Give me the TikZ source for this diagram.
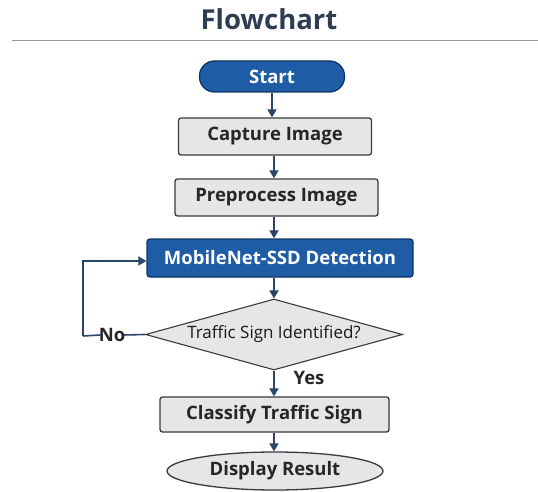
\documentclass[tikz,border=0pt]{standalone}
\usepackage{fontspec}
\setmainfont{Open Sans}
\usetikzlibrary{shapes.geometric,arrows.meta}
\definecolor{navy}{HTML}{2B4566}
\definecolor{bluefill}{HTML}{1F5CA6}
\definecolor{blueedge}{HTML}{0F3566}
\definecolor{grayfill}{HTML}{E6E6E8}
\definecolor{grayedge}{HTML}{3A3A3A}
\definecolor{titlecol}{HTML}{2E3D52}
\tikzset{
  every node/.style={font=\bfseries\fontsize{18.5}{22}\selectfont, inner sep=0pt},
  procbox/.style={draw=grayedge, line width=1.3pt, fill=grayfill, rounded corners=2.5pt, text=black!85},
  bluebox/.style={draw=blueedge, line width=1.3pt, fill=bluefill, rounded corners=3pt, text=white},
  decbox/.style={diamond, aspect=3.6, draw=grayedge, line width=1.1pt, fill=grayfill, text=black!90, font=\fontsize{17}{20}\selectfont},
  endbox/.style={ellipse, draw=grayedge, line width=1.3pt, fill=grayfill, text=black!85},
  flow/.style={draw=navy, line width=1.8pt, -{Triangle[length=8pt,width=9pt]}},
  plain/.style={draw=navy, line width=1.6pt}
}
\begin{document}
\begin{tikzpicture}[x=1pt,y=-1pt]
\useasboundingbox (0,0) rectangle (538,492);
\node (title) at (269,19) {\textcolor{titlecol}{\fontsize{27.5}{32}\selectfont Flowchart}};
\coordinate (hl) at (12,40.5);
\coordinate (hr) at (538,40.5);
\draw[draw=gray!80, line width=1.2pt] (hl) -- (hr);

\node[bluebox, rounded corners=15pt, minimum width=145pt, minimum height=31pt] (start) at (272,76.5) {Start};
\node[procbox, minimum width=193pt, minimum height=37pt] (cap) at (275,136.5) {Capture Image};
\node[procbox, minimum width=203pt, minimum height=37pt] (pre) at (276.5,197.5) {Preprocess Image};
\node[bluebox, minimum width=266pt, minimum height=38pt] (det) at (280,258) {MobileNet-SSD Detection};
\node[decbox, minimum width=257pt, minimum height=71pt] (dec) at (274,334.5) {Traffic Sign Identified?};
\node[procbox, minimum width=229pt, minimum height=35pt] (cls) at (274.5,414.5) {Classify Traffic Sign};
\node[endbox, minimum width=216pt, minimum height=38pt] (disp) at (275,471) {Display Result};

\draw[flow] (start.south -| 272,0) -- (cap.north -| 272,0);
\draw[flow] (cap.south -| 274,0) -- (pre.north -| 274,0);
\draw[flow] (pre.south -| 274,0) -- (det.north -| 274,0);
\draw[flow] (det.south -| 274,0) -- (dec.north);
\draw[flow] (dec.south) -- (cls.north -| dec.south);
\draw[flow] (cls.south -| 274,0) -- (disp.north -| 274,0);

\node (no) at (112,335) {\textcolor{black!85}{No}};
\node (yes) at (309,378) {\textcolor{black!85}{Yes}};
\coordinate (c1) at (83,336);
\coordinate (c2) at (83,261);
\draw[plain] (dec.west) -- ([xshift=-2pt]no.east);
\draw[plain] ([xshift=2pt]no.west) -- (c1);
\draw[flow] (c1) -- (c2) -- (c2 -| det.west);
\end{tikzpicture}
\end{document}
